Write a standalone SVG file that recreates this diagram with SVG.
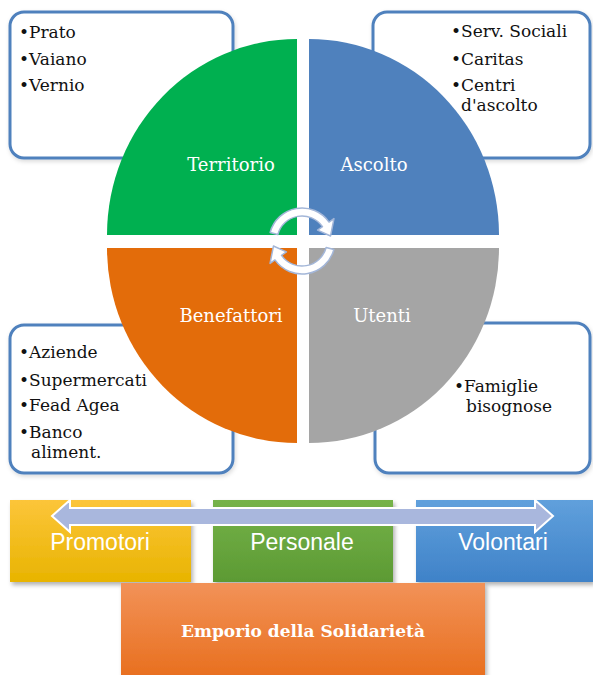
<svg xmlns="http://www.w3.org/2000/svg" width="593" height="675" viewBox="0 0 593 675">
  <defs>
    <style>
      .box { fill: #ffffff; stroke: #4f81bd; stroke-width: 3; }
      .btxt { font-family: "DejaVu Serif", "Liberation Serif", serif; font-size: 17px; fill: #111111; }
      .qtxt { font-family: "DejaVu Serif", "Liberation Serif", serif; font-size: 18px; fill: #ffffff; text-anchor: middle; }
      .bar { stroke: none; filter: url(#shadow); }
      .bartxt { font-family: "Liberation Sans", "Open Sans", sans-serif; font-size: 23px; fill: #ffffff; text-anchor: middle; }
      .rot { fill: #ffffff; stroke: #a3b6d8; stroke-width: 1.5; stroke-linejoin: round; }
    </style>
    <linearGradient id="gYellow" x1="0" y1="0" x2="0" y2="1">
      <stop offset="0" stop-color="#fcc53a"/>
      <stop offset="1" stop-color="#e8b400"/>
    </linearGradient>
    <linearGradient id="gGreen" x1="0" y1="0" x2="0" y2="1">
      <stop offset="0" stop-color="#76b34a"/>
      <stop offset="1" stop-color="#5c9a33"/>
    </linearGradient>
    <linearGradient id="gBlue" x1="0" y1="0" x2="0" y2="1">
      <stop offset="0" stop-color="#60a0dc"/>
      <stop offset="1" stop-color="#3f82c8"/>
    </linearGradient>
    <linearGradient id="gOrange" x1="0" y1="0" x2="0" y2="1">
      <stop offset="0" stop-color="#f29258"/>
      <stop offset="1" stop-color="#e86f1e"/>
    </linearGradient>
    <filter id="shadow" x="-10%" y="-10%" width="125%" height="130%">
      <feDropShadow dx="2" dy="3" stdDeviation="2" flood-color="#000000" flood-opacity="0.3"/>
    </filter>
    <filter id="boxshadow" x="-10%" y="-10%" width="125%" height="125%">
      <feDropShadow dx="1" dy="2" stdDeviation="2" flood-color="#000000" flood-opacity="0.15"/>
    </filter>
  </defs>

  <rect width="593" height="675" fill="#ffffff"/>

  <!-- Side boxes -->
  <g id="box-territorio">
    <rect class="box" x="10" y="12" width="223" height="146" rx="14" filter="url(#boxshadow)"/>
    <text class="btxt" x="19" y="38">•Prato</text>
    <text class="btxt" x="19" y="65">•Vaiano</text>
    <text class="btxt" x="19" y="91">•Vernio</text>
  </g>
  <g id="box-ascolto">
    <rect class="box" x="373" y="12" width="217" height="146" rx="14" filter="url(#boxshadow)"/>
    <text class="btxt" x="451" y="37">•Serv. Sociali</text>
    <text class="btxt" x="451" y="65">•Caritas</text>
    <text class="btxt" x="451" y="91">•Centri</text>
    <text class="btxt" x="461" y="111">d'ascolto</text>
  </g>
  <g id="box-benefattori">
    <rect class="box" x="10" y="325" width="223" height="148" rx="14" filter="url(#boxshadow)"/>
    <text class="btxt" x="19" y="358">•Aziende</text>
    <text class="btxt" x="19" y="386">•Supermercati</text>
    <text class="btxt" x="19" y="411">•Fead Agea</text>
    <text class="btxt" x="19" y="438">•Banco</text>
    <text class="btxt" x="31" y="458">aliment.</text>
  </g>
  <g id="box-utenti">
    <rect class="box" x="375" y="323" width="215" height="150" rx="14" filter="url(#boxshadow)"/>
    <text class="btxt" x="454" y="392">•Famiglie</text>
    <text class="btxt" x="466" y="412">bisognose</text>
  </g>

  <!-- Circle quadrants -->
  <g id="q-territorio">
    <path d="M297,235 L107,235 A190,196 0 0 1 297,39 Z" fill="#00b050"/>
    <text class="qtxt" x="231" y="171">Territorio</text>
  </g>
  <g id="q-ascolto">
    <path d="M309,235 L309,39 A190,196 0 0 1 499,235 Z" fill="#4f81bd"/>
    <text class="qtxt" x="374" y="171">Ascolto</text>
  </g>
  <g id="q-utenti">
    <path d="M309,248 L499,248 A190,195 0 0 1 309,443 Z" fill="#a5a5a5"/>
    <text class="qtxt" x="382" y="322">Utenti</text>
  </g>
  <g id="q-benefattori">
    <path d="M297,248 L297,443 A190,195 0 0 1 107,248 Z" fill="#e36c0a"/>
    <text class="qtxt" x="231" y="322">Benefattori</text>
  </g>

  <!-- Bars -->
  <g id="promotori">
    <rect class="bar" x="10" y="500" width="181" height="82" fill="url(#gYellow)"/>
    <text class="bartxt" x="100" y="550">Promotori</text>
  </g>
  <g id="personale">
    <rect class="bar" x="213" y="500" width="180" height="82" fill="url(#gGreen)"/>
    <text class="bartxt" x="302" y="550">Personale</text>
  </g>
  <g id="volontari">
    <rect class="bar" x="416" y="500" width="177" height="82" fill="url(#gBlue)"/>
    <text class="bartxt" x="503" y="550">Volontari</text>
  </g>
  <g id="emporio">
    <rect class="bar" x="121" y="583" width="364" height="95" fill="url(#gOrange)"/>
    <text x="303" y="637" font-family="'DejaVu Serif', 'Liberation Serif', serif" font-size="17" font-weight="bold" fill="#ffffff" text-anchor="middle">Emporio della Solidarietà</text>
  </g>

  <!-- Connectors: rotating arrows and double arrow -->
  <g id="connectors">
    <path class="rot" d="M270.13,232.46 A33,33 0 0 1 329.03,222.07 L333.95,218.63 L330.56,235.97 L317.56,230.10 L322.48,226.66 A25,25 0 0 0 277.85,234.53 Z"/>
    <path class="rot" d="M333.87,249.54 A33,33 0 0 1 274.97,259.93 L270.05,263.37 L273.44,246.03 L286.44,251.90 L281.52,255.34 A25,25 0 0 0 326.15,247.47 Z"/>
    <path d="M52,516 L70,500 L70,508 L535,508 L535,500 L553,516 L535,532 L535,525 L70,525 L70,532 Z" fill="#a9b7dd" stroke="#ffffff" stroke-width="2" stroke-linejoin="miter"/>
  </g>
</svg>
